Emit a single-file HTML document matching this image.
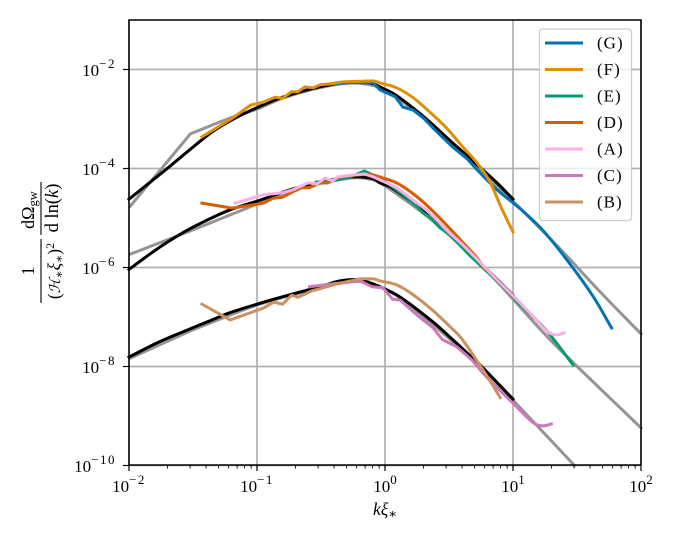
<!DOCTYPE html>
<html>
<head>
<meta charset="utf-8">
<style>
html,body{margin:0;padding:0;background:#fff;width:674px;height:539px;overflow:hidden}
svg{display:block}
text{font-family:"Liberation Serif","DejaVu Serif",serif;fill:#000}
</style>
</head>
<body>
<svg id="chart" width="674" height="539" viewBox="0 0 674 539" xmlns="http://www.w3.org/2000/svg">
  <rect width="674" height="539" fill="#fff"/>
  <g id="grid"></g>
  <g id="series"></g>
  <g id="axes"></g>
  <g id="legend"></g>
  <g>
    <text x="385" y="515" text-anchor="middle" font-size="17.5" font-style="italic">kξ<tspan font-size="13" dy="3" font-style="normal">∗</tspan></text>
  </g>
  <g>
    <text transform="translate(34,271) rotate(-90)" text-anchor="middle" font-size="17.5">1</text>
    <line x1="41" y1="239" x2="41" y2="303" stroke="#000" stroke-width="1.1"/>
    <text transform="translate(60,271) rotate(-90)" text-anchor="middle" font-size="17.5">(<tspan font-style="italic" font-family="'DejaVu Serif',serif" font-size="15">ℋ</tspan><tspan font-size="12" dy="3">∗</tspan><tspan font-style="italic" dy="-3">ξ</tspan><tspan font-size="12" dy="3">∗</tspan><tspan dy="-3">)</tspan><tspan font-size="12" dy="-6">2</tspan></text>
    <line x1="41" y1="182" x2="41" y2="235" stroke="#000" stroke-width="1.1"/>
    <text transform="translate(34,210) rotate(-90)" text-anchor="middle" font-size="18">dΩ<tspan font-size="12.5" dy="3">gw</tspan></text>
    <text transform="translate(58,208) rotate(-90)" text-anchor="middle" font-size="18.5">d ln(<tspan font-style="italic">k</tspan>)</text>
  </g>
</svg>
<script>
// Values are log10(k xi) and log10(Omega).
const refTopLogK = [-1.99,-1.52,-1.19,-1,-0.8,-0.51,-0.27,-0.12,0,0.33,0.74,1,1.37,1.68,2];
const refTopLogOmega = [-4.76,-3.3,-2.96,-2.8,-2.58,-2.37,-2.27,-2.31,-2.41,-3.04,-4.01,-4.66,-5.63,-6.49,-7.34];
const refMidLogK = [-1.99,-1.52,-1,-0.8,-0.59,-0.25,-0.09,0,0.375,0.78,1,1.29,2];
const refMidLogOmega = [-5.73,-5.26,-4.72,-4.51,-4.35,-4.19,-4.23,-4.35,-5.06,-6.03,-6.64,-7.46,-9.24];
const refLowLogK = [-1.99,-1.52,-1,-0.51,-0.27,-0.12,0.12,0.74,1,1.48];
const refLowLogOmega = [-7.83,-7.28,-6.76,-6.41,-6.29,-6.31,-6.62,-7.99,-8.68,-10];

const fitTopLogK = [-2,-1.73,-1.52,-1.35,-1.19,-1,-0.8,-0.51,-0.27,-0.16,-0.09,-0.04,0.08,0.22,0.35,0.48,0.61,0.74,0.875,1];
const fitTopLogOmega = [-4.62,-4.06,-3.61,-3.26,-3.01,-2.77,-2.56,-2.35,-2.25,-2.26,-2.29,-2.35,-2.51,-2.78,-3.06,-3.37,-3.67,-3.97,-4.29,-4.62];
const fitMidLogK = [-2,-1.875,-1.74,-1.56,-1.38,-1.195,-1,-0.8,-0.59,-0.25,-0.09,-0.04,0.04,0.17,0.35,0.48,0.66,0.8,1];
const fitMidLogOmega = [-6.04,-5.8,-5.555,-5.27,-5.03,-4.82,-4.66,-4.48,-4.32,-4.17,-4.21,-4.29,-4.37,-4.6,-4.94,-5.24,-5.71,-6.05,-6.56];
const fitLowLogK = [-2,-1.77,-1.56,-1.38,-1.23,-1,-0.77,-0.51,-0.35,-0.195,-0.04,0.12,0.375,0.53,0.66,0.74,1];
const fitLowLogOmega = [-7.81,-7.51,-7.28,-7.09,-6.93,-6.74,-6.57,-6.39,-6.27,-6.25,-6.39,-6.6,-7.1,-7.46,-7.77,-7.96,-8.66];

const gLogK = [-0.43,-0.27,-0.09,-0.04,0.08,0.14,0.22,0.3,0.375,0.45,0.53,0.64,0.74,0.875,1.05,1.23,1.44,1.63,1.77];
const gLogOmega = [-2.29,-2.27,-2.27,-2.41,-2.55,-2.76,-2.82,-2.98,-3.18,-3.37,-3.57,-3.8,-4.08,-4.43,-4.8,-5.24,-5.91,-6.6,-7.22];
const fLogK = [-1.43,-1.19,-1.05,-0.95,-0.86,-0.8,-0.73,-0.68,-0.625,-0.56,-0.51,-0.43,-0.33,-0.09,-0.04,0.09,0.22,0.35,0.48,0.61,0.72,0.82,0.91,1];
const fLogOmega = [-3.36,-2.98,-2.72,-2.66,-2.56,-2.58,-2.45,-2.45,-2.35,-2.37,-2.31,-2.29,-2.25,-2.23,-2.27,-2.37,-2.57,-2.86,-3.18,-3.57,-3.89,-4.27,-4.8,-5.28];
const eLogK = [-0.53,-0.375,-0.27,-0.16,-0.02,0.09,0.195,0.3,0.35,0.43,0.51,0.66,0.8,0.95,1.04,1.27,1.47];
const eLogOmega = [-4.27,-4.23,-4.17,-4.05,-4.23,-4.43,-4.64,-4.9,-4.98,-5.2,-5.34,-5.75,-6.09,-6.45,-6.7,-7.3,-7.97];
const dLogK = [-1.43,-1.195,-0.95,-0.875,-0.8,-0.72,-0.65,-0.59,-0.51,-0.445,-0.375,-0.3,-0.12,-0.04,0.09,0.22,0.35,0.48,0.61,0.72,0.78];
const dLogOmega = [-4.7,-4.8,-4.7,-4.6,-4.58,-4.47,-4.39,-4.39,-4.29,-4.29,-4.19,-4.15,-4.11,-4.17,-4.29,-4.51,-4.8,-5.14,-5.5,-5.81,-6.03];
const aLogK = [-1.17,-0.95,-0.8,-0.72,-0.6,-0.53,-0.47,-0.41,-0.37,-0.25,-0.16,-0.09,-0.04,0.09,0.22,0.35,0.48,0.61,0.74,0.875,1.05,1.16,1.27,1.34,1.4];
const aLogOmega = [-4.7,-4.53,-4.49,-4.43,-4.29,-4.31,-4.19,-4.25,-4.17,-4.13,-4.11,-4.17,-4.23,-4.39,-4.64,-4.9,-5.24,-5.55,-5.89,-6.25,-6.7,-7,-7.3,-7.36,-7.32];
const cLogK = [-0.59,-0.41,-0.195,-0.1,-0.016,0.06,0.12,0.25,0.375,0.45,0.56,0.68,0.8,1,1.16,1.23,1.3];
const cLogOmega = [-6.39,-6.33,-6.27,-6.39,-6.41,-6.64,-6.66,-6.96,-7.22,-7.46,-7.6,-7.87,-8.23,-8.74,-9.14,-9.2,-9.16];
const bLogK = [-1.43,-1.21,-0.95,-0.87,-0.8,-0.73,-0.68,-0.57,-0.51,-0.375,-0.195,-0.09,-0.04,0.09,0.22,0.37,0.51,0.6,0.74,0.82,0.9];
const bLogOmega = [-6.74,-7.06,-6.82,-6.7,-6.74,-6.56,-6.6,-6.47,-6.43,-6.33,-6.23,-6.23,-6.27,-6.35,-6.55,-6.86,-7.2,-7.44,-7.97,-8.29,-8.63];

const xTickExponents = [-2,-1,0,1,2];
const yTickExponents = [-2,-4,-6,-8,-10];
const xMinorMultipliers = [2,3,4,5,6,7,8,9];
const legendLabels = ["(G)","(F)","(E)","(D)","(A)","(C)","(B)"];

const NS = "http://www.w3.org/2000/svg";
const plotLeft = 129, plotRight = 641, plotTop = 20, plotBottom = 465;
function xScale(logK){ return plotLeft + (logK + 2) * (plotRight - plotLeft) / 4; }
function yScale(logOmega){ return 69.5 + (-2 - logOmega) * 49.5; }
function make(tag, attrs, parent){
  const el = document.createElementNS(NS, tag);
  for (const k in attrs) el.setAttribute(k, attrs[k]);
  parent.appendChild(el);
  return el;
}
const gridG = document.getElementById("grid");
const seriesG = document.getElementById("series");
const axesG = document.getElementById("axes");
const legendG = document.getElementById("legend");

xTickExponents.forEach(function(e){
  const l = make("line", {x1:xScale(e), x2:xScale(e), y1:plotTop, y2:plotBottom, stroke:"#b0b0b0", "stroke-width":1.7}, gridG);
  
  
});
yTickExponents.forEach(function(e){
  const l = make("line", {x1:plotLeft, x2:plotRight, y1:yScale(e), y2:yScale(e), stroke:"#b0b0b0", "stroke-width":1.7}, gridG);
  
  
});

// Straight segments below smoothFrom (log k); smooth curve at and above it.
function linePath(logK, logOmega, smoothFrom){
  const xs = logK.map(xScale);
  const ys = logOmega.map(yScale);
  function slope(i){
    if (i === 0 || logK[i-1] < smoothFrom) return (ys[i+1]-ys[i])/(xs[i+1]-xs[i]);
    if (i === xs.length-1) return (ys[i]-ys[i-1])/(xs[i]-xs[i-1]);
    return (ys[i+1]-ys[i-1])/(xs[i+1]-xs[i-1]);
  }
  let d = "M" + xs[0].toFixed(2) + " " + ys[0].toFixed(2);
  for (let i = 0; i < xs.length-1; i++){
    if (logK[i] < smoothFrom){
      d += "L" + xs[i+1].toFixed(2) + " " + ys[i+1].toFixed(2);
    } else {
      const dx = (xs[i+1]-xs[i])/3;
      d += "C" + (xs[i]+dx).toFixed(2) + " " + (ys[i]+slope(i)*dx).toFixed(2) + " " +
           (xs[i+1]-dx).toFixed(2) + " " + (ys[i+1]-slope(i+1)*dx).toFixed(2) + " " +
           xs[i+1].toFixed(2) + " " + ys[i+1].toFixed(2);
    }
  }
  return d;
}
function drawLine(logK, logOmega, color, name, smoothFrom){
  const p = make("path", {d:linePath(logK, logOmega, smoothFrom), fill:"none", stroke:color, "stroke-width":3, "stroke-linejoin":"round", "stroke-linecap":"square"}, seriesG);
  
  
}
drawLine(refTopLogK, refTopLogOmega, "#949494", "reference-line-top", -1.52);
drawLine(refMidLogK, refMidLogOmega, "#949494", "reference-line-middle", -1.52);
drawLine(refLowLogK, refLowLogOmega, "#949494", "reference-line-bottom", -1.52);
drawLine(fitTopLogK, fitTopLogOmega, "#000000", "fit-line-top", -2);
drawLine(fitMidLogK, fitMidLogOmega, "#000000", "fit-line-middle", -2);
drawLine(fitLowLogK, fitLowLogOmega, "#000000", "fit-line-bottom", -2);
drawLine(gLogK, gLogOmega, "#0173b2", "series-g", 0.6);
drawLine(fLogK, fLogOmega, "#de8f05", "series-f", -0.09);
drawLine(eLogK, eLogOmega, "#029e73", "series-e", 0.66);
drawLine(dLogK, dLogOmega, "#d55e00", "series-d", -0.12);
drawLine(aLogK, aLogOmega, "#fbafe4", "series-a", -0.09);
drawLine(cLogK, cLogOmega, "#cc78bc", "series-c", 0.68);
drawLine(bLogK, bLogOmega, "#ca9161", "series-b", -0.195);

const frame = make("rect", {x:plotLeft, y:plotTop, width:plotRight-plotLeft, height:plotBottom-plotTop, fill:"none", stroke:"#000", "stroke-width":1.5}, axesG);



xTickExponents.forEach(function(e){
  const x = xScale(e);
  const t = make("line", {x1:x, x2:x, y1:plotBottom, y2:plotBottom+6, stroke:"#000", "stroke-width":1.2}, axesG);
  
  
  const label = make("text", {x:x, y:492, "text-anchor":"middle", "font-size":17}, axesG);
  
  
  label.appendChild(document.createTextNode("10"));
  const sup = make("tspan", {dy:-8, "font-size":13, "letter-spacing":e < 0 ? 1.5 : 0}, label);
  sup.textContent = (e < 0 ? "\u2212" : "") + Math.abs(e);
  if (e < 2) {
    xMinorMultipliers.forEach(function(m){
      const mx = xScale(e + Math.log10(m));
      const mt = make("line", {x1:mx, x2:mx, y1:plotBottom, y2:plotBottom+3.5, stroke:"#000", "stroke-width":0.9}, axesG);
      
      
    });
  }
});
yTickExponents.forEach(function(e){
  const y = yScale(e);
  const t = make("line", {x1:plotLeft-6, x2:plotLeft, y1:y, y2:y, stroke:"#000", "stroke-width":1.2}, axesG);
  
  
  const label = make("text", {x:116, y:y+6.5, "text-anchor":"end", "font-size":17}, axesG);
  
  
  label.appendChild(document.createTextNode("10"));
  const sup = make("tspan", {dy:-8, "font-size":13, "letter-spacing":1.5}, label);
  sup.textContent = "\u2212" + Math.abs(e);
});

const legendBox = make("rect", {x:539.5, y:29, width:92, height:191.5, rx:3, ry:3, fill:"#fff", "fill-opacity":0.8, stroke:"#cccccc", "stroke-width":1.3}, legendG);


const legendColors = ["#0173b2","#de8f05","#029e73","#d55e00","#fbafe4","#cc78bc","#ca9161"];
legendLabels.forEach(function(lab, i){
  const y = 43 + i * 26.5;
  const h = make("line", {x1:545, x2:583, y1:y, y2:y, stroke:legendColors[i], "stroke-width":3}, legendG);
  
  
  const t = make("text", {x:597, y:y+5.5, "font-size":17, "letter-spacing":1}, legendG);
  
  
  t.textContent = lab;
});
</script>
</body>
</html>
